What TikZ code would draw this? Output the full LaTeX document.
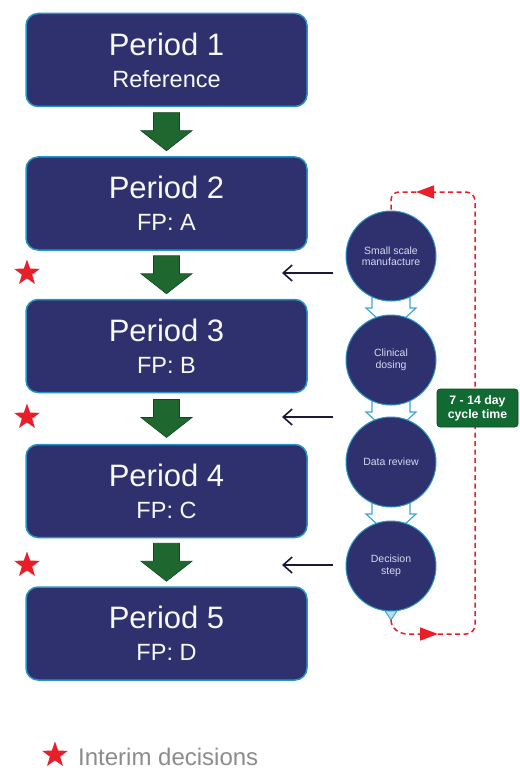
\documentclass[tikz,border=0pt]{standalone}
\usepackage{fontspec}
\setmainfont{Liberation Sans}
\usetikzlibrary{shapes.geometric,arrows.meta,calc}

\definecolor{navy}{RGB}{46,49,110}
\definecolor{rim}{RGB}{38,150,200}
\definecolor{leaf}{RGB}{30,104,48}
\definecolor{leafdark}{RGB}{18,70,30}
\definecolor{alert}{RGB}{232,30,40}
\definecolor{ink}{RGB}{26,26,56}
\definecolor{sky}{RGB}{60,166,214}
\definecolor{pale}{RGB}{185,222,240}
\definecolor{tagfill}{RGB}{16,106,50}
\definecolor{lav}{RGB}{214,216,238}
\definecolor{slate}{RGB}{140,140,140}

\tikzset{
  period/.style={draw=rim, line width=1.5pt, fill=navy, rounded corners=12pt,
    minimum width=281pt, minimum height=93pt, align=center, inner sep=0pt,
    text=white!95!gray, font=\fontsize{23.5}{32}\selectfont},
  phase/.style={circle, draw=rim, line width=1pt, fill=navy, minimum size=90pt,
    inner sep=0pt, align=center, text=lav, font=\fontsize{10.5}{11.5}\selectfont},
  redstar/.style={star, star points=5, star point ratio=2.5, minimum size=27pt,
    inner sep=0pt, fill=alert, draw=none},
  lead/.style={ink, line width=1.6pt, -{Straight Barb[length=9pt,width=16pt]}},
  loopline/.style={alert, line width=1.5pt, dash pattern=on 5pt off 3.5pt},
  looptip/.style={-{Triangle[length=18pt,width=13pt]}},
  tagbox/.style={fill=tagfill, draw=tagfill!70!black, line width=0.6pt,
    rounded corners=3pt, minimum width=81pt, minimum height=38pt, inner sep=0pt,
    align=center, text=white, font=\bfseries\fontsize{12.3}{14}\selectfont},
  gdown/.pic={\draw[fill=leaf, draw=leafdark, line width=0.6pt, line join=miter]
    (-13,-19) -- (-13,-1) -- (-25.5,-1) -- (0,19) -- (25.5,-1) -- (13,-1) -- (13,-19) -- cycle;},
  flow/.pic={\draw[sky, fill=white, line width=1.2pt, line join=miter]
    (-19,0) -- (-19,52) -- (-25,52) -- (0,75) -- (25,52) -- (19,52) -- (19,0) -- cycle;}
}

\begin{document}
\begin{tikzpicture}[x=1pt,y=-1pt]
\useasboundingbox (0,0) rectangle (519,770);
\fill[white] (0,0) rectangle (519,770);

% the five study periods
\node[period] (p1) at (166.5,60)    {{\fontsize{31}{32}\selectfont Period 1}\\Reference};
\node[period] (p2) at (166.5,203.5) {{\fontsize{31}{32}\selectfont Period 2}\\FP: A};
\node[period] (p3) at (166.5,346)   {{\fontsize{31}{32}\selectfont Period 3}\\FP: B};
\node[period] (p4) at (166.5,491)   {{\fontsize{31}{32}\selectfont Period 4}\\FP: C};
\node[period] (p5) at (166.5,633.5) {{\fontsize{31}{32}\selectfont Period 5}\\FP: D};

% block arrows between periods
\coordinate (m1) at ($(p1.south)!0.5!(p2.north)$);
\coordinate (m2) at ($(p2.south)!0.5!(p3.north)$);
\coordinate (m3) at ($(p3.south)!0.5!(p4.north)$);
\coordinate (m4) at ($(p4.south)!0.5!(p5.north)$);
\pic at (m1) {gdown};
\pic at (m2) {gdown};
\pic at (m3) {gdown};
\pic at (m4) {gdown};

% interim decision stars
\node[redstar] (s2) at (27,273) {};
\node[redstar] (s3) at (27,417) {};
\node[redstar] (s4) at (27,565) {};

% hollow arrows linking the cycle steps (behind the circles)
\coordinate (c1c) at (391,256);
\coordinate (c2c) at (391,360);
\coordinate (c3c) at (391,462);
\pic at (c1c) {flow};
\pic at (c2c) {flow};
\pic at (c3c) {flow};
\coordinate (dl) at (378,600);
\coordinate (dr) at (404,600);
\coordinate (dtip) at (391,620);
\draw[sky, fill=pale, line width=1pt, line join=miter] (dl) -- (dr) -- (dtip) -- cycle;

% the cycle steps
\node[phase] (c1) at (391,256) {Small scale\\manufacture};
\node[phase] (c2) at (391,360) {Clinical\\dosing};
\node[phase] (c3) at (391,462) {Data review};
\node[phase] (c4) at (391,566) {Decision\\step};

% feedback to the period gaps
\coordinate (f2) at (333,273);  \coordinate (t2) at (282,273);
\coordinate (f3) at (333,417);  \coordinate (t3) at (282,417);
\coordinate (f4) at (333,565);  \coordinate (t4) at (282,565);
\draw[lead] (f2) -- (t2);
\draw[lead] (f3) -- (t3);
\draw[lead] (f4) -- (t4);

% dashed loop back to manufacture
\coordinate (bmid) at (438,634);
\coordinate (bcorner) at (475,634);
\coordinate (tcorner) at (475,192);
\coordinate (tmid) at (416,192);
\coordinate (tleft) at (391,192);
\draw[loopline, looptip] (dtip) to[out=-90,in=180] (408,634) -- (bmid);
\draw[loopline, looptip, rounded corners=9pt] (bmid) -- (bcorner) -- (tcorner) -- (tmid);
\draw[loopline, rounded corners=8pt] (tmid) -- (tleft) -- (c1.north);

% cycle time label
\node[tagbox] (cyc) at (477.5,408) {7 - 14 day\\cycle time};

% legend
\node[redstar] (key) at (55,755) {};
\node[anchor=base west, inner sep=0pt, text=slate, font=\fontsize{24}{24}\selectfont]
  (keytext) at (78,765) {Interim decisions};
\end{tikzpicture}
\end{document}
